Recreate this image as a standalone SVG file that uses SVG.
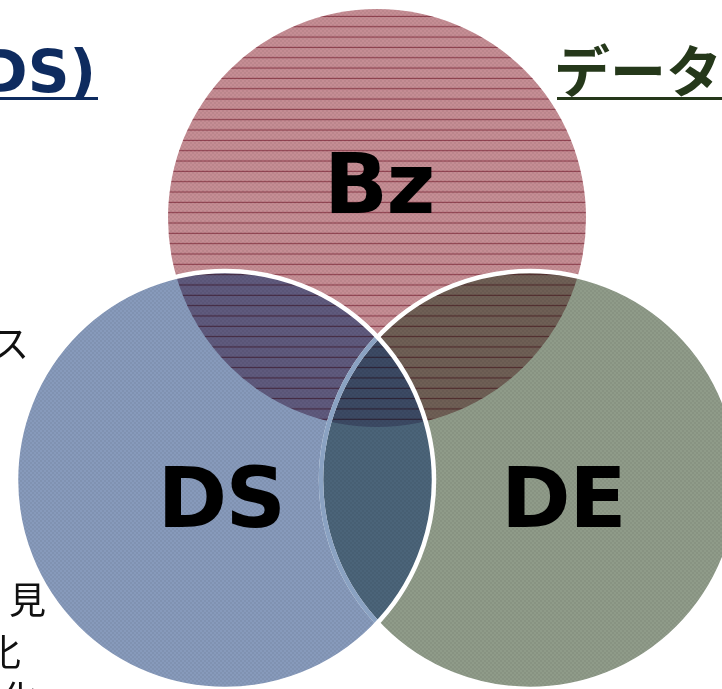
<svg xmlns="http://www.w3.org/2000/svg" width="722" height="689" viewBox="0 0 722 689">
  <style>
    .lbl { font-family: "DejaVu Sans", Verdana, sans-serif; font-weight: bold; font-size: 84px; letter-spacing: -1.5px; fill: #000; text-anchor: middle; }
    .head-en { font-family: "DejaVu Sans", Verdana, sans-serif; font-weight: bold; font-size: 58px; fill: #0e2b5f; }
    .head-jp { font-family: "Noto Sans CJK JP", "Noto Sans", sans-serif; font-weight: bold; font-size: 56px; fill: #25381a; }
    .note { font-family: "Noto Sans CJK JP", "Noto Sans", sans-serif; font-size: 37px; fill: #111; }
    .outline { fill: none; stroke: #fff; stroke-width: 4.5; }
  </style>
  <defs>
    <circle id="c-bz" cx="377" cy="218" r="209"/>
    <circle id="c-ds" cx="225" cy="480" r="209"/>
    <circle id="c-de" cx="530" cy="480" r="209"/>
    <clipPath id="clip-bz"><use href="#c-bz"/></clipPath>
    <clipPath id="clip-ds"><use href="#c-ds"/></clipPath>
    <clipPath id="clip-de"><use href="#c-de"/></clipPath>
    <clipPath id="clip-all"><use href="#c-bz"/><use href="#c-ds"/><use href="#c-de"/></clipPath>
    <!-- horizontal hatching of the Bz set -->
    <pattern id="hatch" patternUnits="userSpaceOnUse" x="0" y="0" width="20" height="10.33">
      <rect x="0" y="5.5" width="20" height="1.1" fill="#b66d80"/>
    </pattern>
    <!-- fine checker grain of the set fills -->
    <pattern id="grain" patternUnits="userSpaceOnUse" width="4" height="4">
      <rect x="0" y="0" width="2" height="2" fill="#000" fill-opacity="0.05"/>
      <rect x="2" y="2" width="2" height="2" fill="#000" fill-opacity="0.05"/>
    </pattern>
  </defs>

  <!-- headings, cut by the page edges -->
  <g id="heading-ds">
    <text class="head-en" x="96" y="92" text-anchor="end">DS)</text>
    <rect x="0" y="97" width="98" height="3" fill="#0e2b5f"/>
  </g>
  <g id="heading-de">
    <text class="head-jp" x="554" y="92">データ</text>
    <rect x="557" y="97" width="165" height="3" fill="#25381a"/>
  </g>
  <g id="side-notes">
    <text class="note" x="-8" y="358" font-size="34">ス</text>
    <text class="note" x="9" y="614">見</text>
    <text class="note" x="-16" y="666">化</text>
    <text class="note" x="1" y="713">化</text>
  </g>

  <!-- the three sets -->
  <g id="node-bz">
    <use href="#c-bz" fill="#c58d94"/>
  </g>
  <g id="node-de">
    <use href="#c-de" fill="#8f9b89"/>
  </g>
  <g id="node-ds">
    <use href="#c-ds" fill="#879abb"/>
  </g>

  <!-- overlaps, hatching, grain and outlines -->
  <g id="overlaps">
    <g clip-path="url(#clip-bz)">
      <use href="#c-ds" fill="#5f5a7d"/>
      <use href="#c-de" fill="#6f5f55"/>
    </g>
    <g clip-path="url(#clip-ds)">
      <use href="#c-de" fill="#4b6479"/>
      <g clip-path="url(#clip-bz)">
        <use href="#c-de" fill="#3c4a64"/>
      </g>
    </g>
    <rect x="160" y="0" width="440" height="440" fill="url(#hatch)" clip-path="url(#clip-bz)" style="mix-blend-mode:multiply"/>
    <rect x="0" y="0" width="722" height="689" fill="url(#grain)" clip-path="url(#clip-all)"/>
    <use href="#c-de" class="outline"/>
    <use href="#c-de" class="outline" style="stroke:#8aa2c2" clip-path="url(#clip-ds)"/>
    <use href="#c-ds" class="outline"/>
  </g>

  <!-- set labels -->
  <g id="labels">
    <text class="lbl" x="379" y="213">Bz</text>
    <text class="lbl" x="221" y="527">DS</text>
    <text class="lbl" x="563" y="527">DE</text>
  </g>
</svg>
